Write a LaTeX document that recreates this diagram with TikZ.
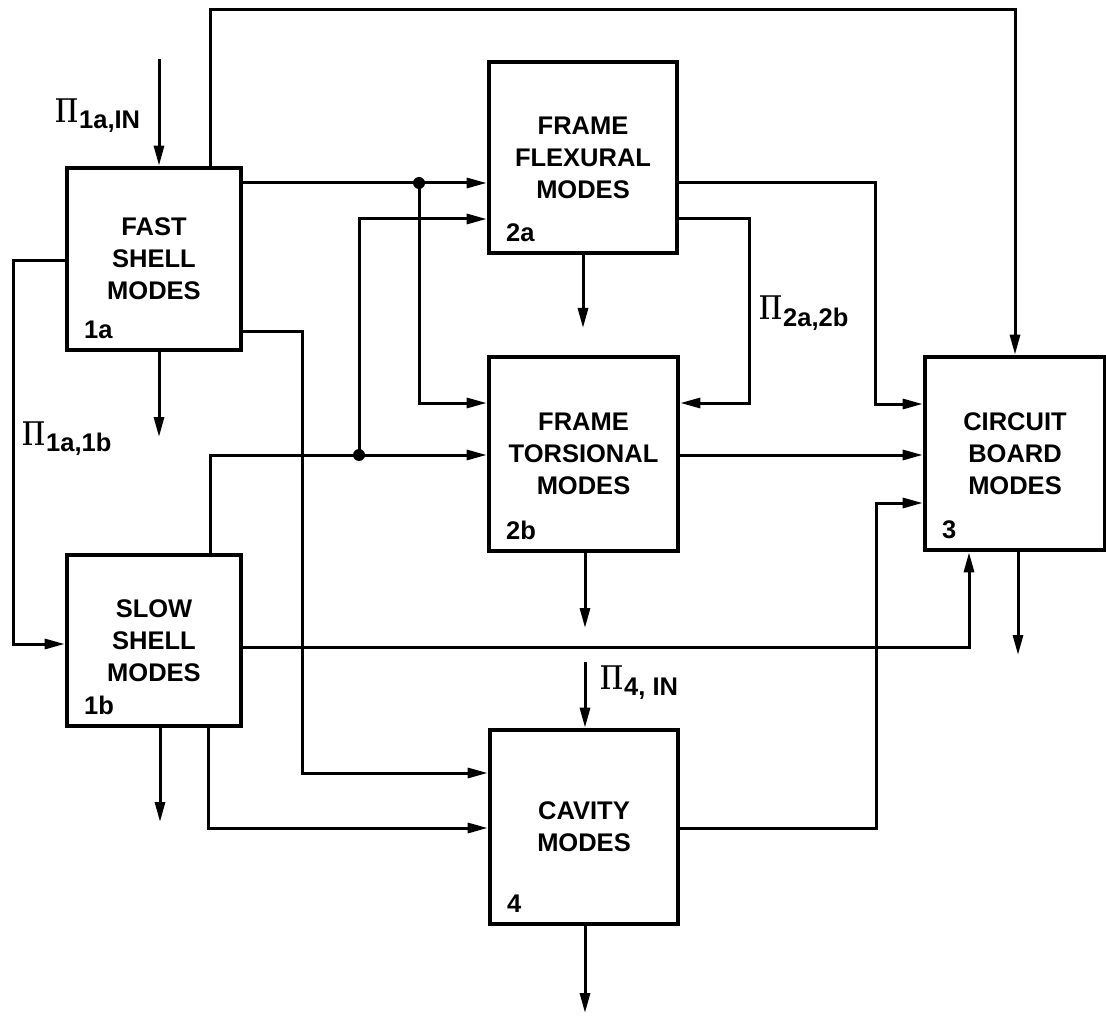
\documentclass[tikz,border=0pt]{standalone}
\usepackage{fontspec}
\setsansfont{Liberation Sans}
\usepackage{graphicx}
\usetikzlibrary{positioning,arrows.meta}

\newcommand{\pisub}[1]{\scalebox{1.05}[1.4]{\boldmath$\Pi$}\kern1pt\raisebox{-6pt}{#1}}

\begin{document}
\begin{tikzpicture}[x=1pt, y=-1pt,
  every node/.style={font=\fontsize{25.5}{32}\selectfont\sffamily\bfseries},
  modebox/.style={rectangle, draw, line width=4.6pt, align=center, inner sep=0pt},
  tag/.style={anchor=south west, xshift=16pt, yshift=10pt},
  pilab/.style={anchor=base west, inner sep=0pt},
  flow/.style={-{Triangle[length=20pt,width=10pt]}, line width=3pt},
  joint/.style={circle, fill, inner sep=0pt, minimum size=12pt}
]
  \useasboundingbox (0,0) rectangle (1106,1016);

  % mode boxes
  \node[modebox, minimum width=174pt, minimum height=182pt, label={[tag]south west:1a}] (fast)      at (154,259)   {FAST\\SHELL\\MODES};
  \node[modebox, minimum width=174pt, minimum height=171pt, label={[tag]south west:1b}] (slow)      at (154,640.5) {SLOW\\SHELL\\MODES};
  \node[modebox, minimum width=188pt, minimum height=191pt, label={[tag]south west:2a}] (flexural)  at (583,157.5) {FRAME\\FLEXURAL\\MODES};
  \node[modebox, minimum width=189pt, minimum height=194pt, label={[tag]south west:2b}] (torsional) at (583.5,454) {FRAME\\TORSIONAL\\MODES};
  \node[modebox, minimum width=180pt, minimum height=193pt, label={[tag]south west:3}]  (circuit)   at (1015,453.5) {CIRCUIT\\BOARD\\MODES};
  \node[modebox, minimum width=188pt, minimum height=194pt, label={[tag]south west:4}]  (cavity)    at (584,827)   {CAVITY\\MODES};

  % free ends
  \coordinate (inA)  at (159,59);
  \coordinate (inD)  at (585,662);
  \coordinate (outA) at (159,437);
  \coordinate (outB) at (160,822);
  \coordinate (outC) at (583,328);
  \coordinate (outE) at (585,628);
  \coordinate (outF) at (1018,655);
  \coordinate (outG) at (585,1013);

  % junctions
  \node[joint] (jA) at (419,183) {};
  \node[joint] (jB) at (359,455) {};

  % inputs
  \draw[flow] (inA) -- (fast.north -| inA);
  \node[pilab] (piA) at (55,123) {\pisub{1a,IN}};
  \draw[flow] (inD) -- (cavity.north -| inD);
  \node[pilab] (piD) at (600,689) {\pisub{4, IN}};

  % fast shell
  \draw[flow] (fast.north -| 210,0) |- (1015,10) -- (circuit.north -| 1015,0);
  \draw[flow] (fast.east |- 0,183) -- (flexural.west |- 0,183);
  \draw[flow] (jA.center) |- (torsional.west |- 0,403);
  \draw[flow] (fast.west |- 0,261) -| (13,644) -- (slow.west |- 0,644);
  \node[pilab] (piB) at (22,445) {\pisub{1a,1b}};
  \draw[flow] (fast.east |- 0,332) -| (302,773) -- (cavity.west |- 0,773);
  \draw[flow] (fast.south -| outA) -- (outA);

  % slow shell
  \draw[flow] (slow.north -| 210,0) |- (torsional.west |- 0,455);
  \draw[flow] (jB.center) |- (flexural.west |- 0,219);
  \draw[flow] (slow.east |- 0,647) -| (circuit.south -| 969,0);
  \draw[flow] (slow.south -| 208,0) |- (cavity.west |- 0,828);
  \draw[flow] (slow.south -| outB) -- (outB);

  % frame
  \draw[flow] (flexural.east |- 0,183) -| (875,404) -- (circuit.west |- 0,404);
  \draw[flow] (flexural.east |- 0,219) -| (749,403) -- (torsional.east |- 0,403);
  \node[pilab] (piC) at (759,320) {\pisub{2a,2b}};
  \draw[flow] (flexural.south -| outC) -- (outC);
  \draw[flow] (torsional.east |- 0,455) -- (circuit.west |- 0,455);
  \draw[flow] (torsional.south -| outE) -- (outE);

  % cavity and circuit board
  \draw[flow] (cavity.east |- 0,828) -| (876,503) -- (circuit.west |- 0,503);
  \draw[flow] (cavity.south -| outG) -- (outG);
  \draw[flow] (circuit.south -| outF) -- (outF);
\end{tikzpicture}
\end{document}
